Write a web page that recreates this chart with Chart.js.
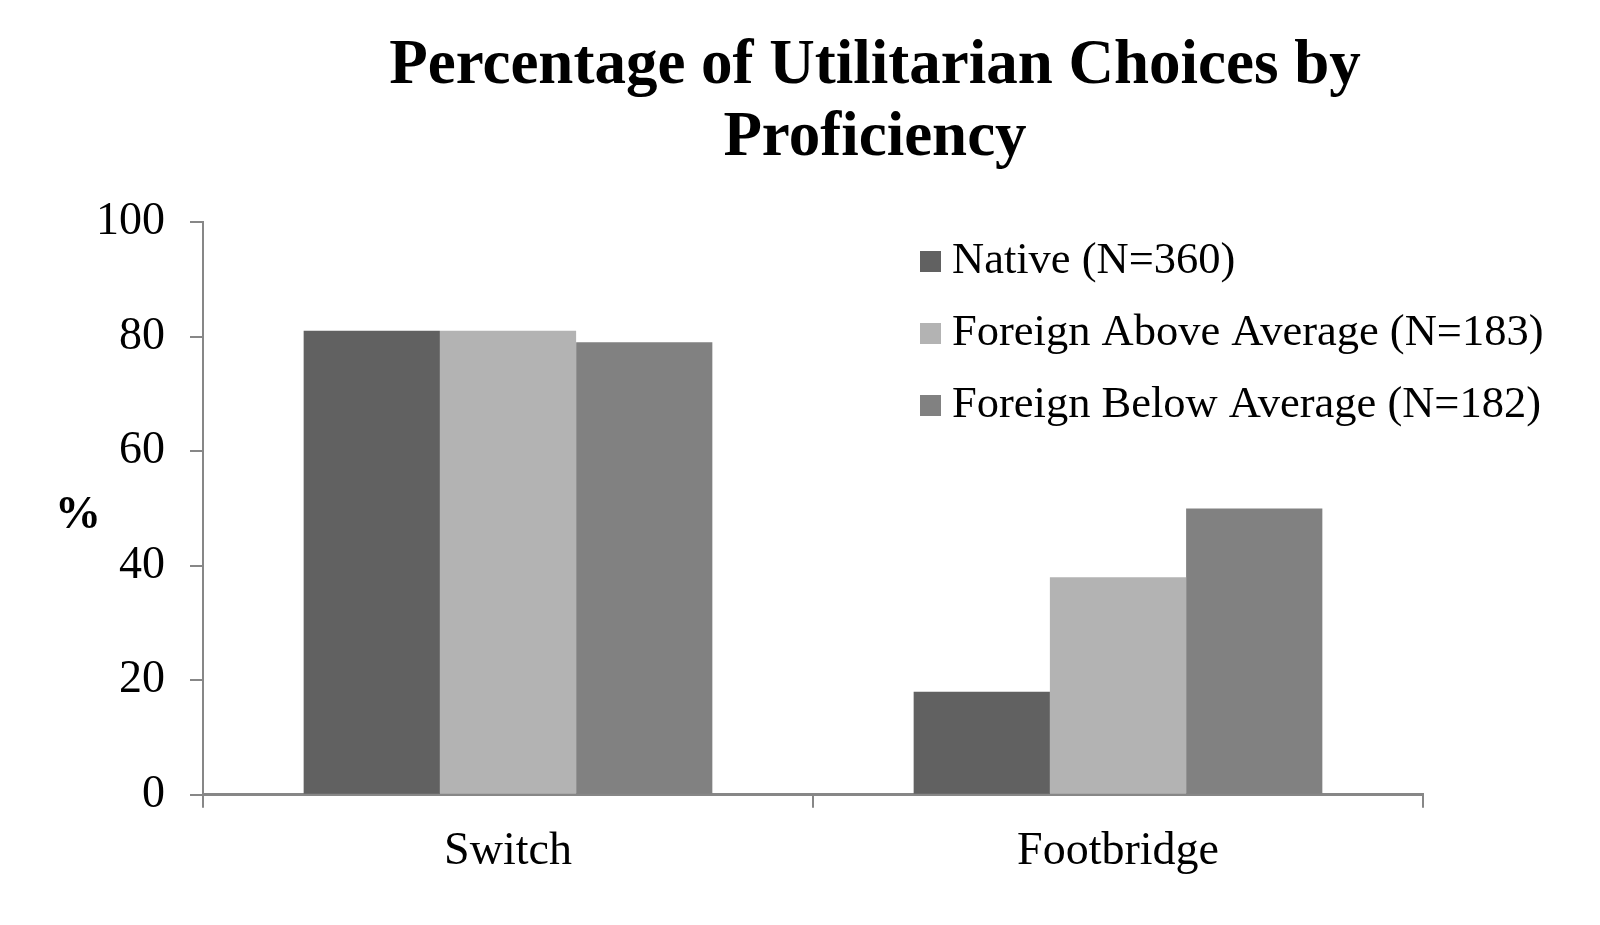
<!DOCTYPE html>
<html>
<head>
<meta charset="utf-8">
<script src="https://cdn.jsdelivr.net/npm/chart.js@4/dist/chart.umd.min.js"></script>
<style>
  html, body { margin: 0; padding: 0; background: #fff; }
  #wrap { width: 1600px; height: 925px; }
</style>
</head>
<body>
<div id="wrap"><canvas id="chart" width="1600" height="925"></canvas></div>
<script>
// values
const categories = ['Switch', 'Footbridge'];
const seriesNames = ['Native (N=360)', 'Foreign Above Average (N=183)', 'Foreign Below Average (N=182)'];
const nativeVals = [81, 18];
const aboveVals = [81, 38];
const belowVals = [79, 50];
const yTicks = [0, 20, 40, 60, 80, 100];
const titleLines = ['Percentage of Utilitarian Choices by', 'Proficiency'];

const colors = ['#616161', '#b3b3b3', '#818181'];
const axisColor = '#878787';
const fontFamily = "'Liberation Serif', 'DejaVu Serif', serif";

// title sits a bit right of the plot centre in the original, so draw it here
const chartTitle = {
  id: 'chartTitle',
  afterDraw(chart) {
    const ctx = chart.ctx;
    ctx.save();
    ctx.font = 'bold 63px ' + fontFamily;
    ctx.textAlign = 'center';
    ctx.textBaseline = 'middle';
    ctx.fillStyle = '#000';
    titleLines.forEach((line, i) => ctx.fillText(line, 875, 67 + i * 72));
    ctx.restore();
  }
};

// legend inside the plot area, top right
const insideLegend = {
  id: 'insideLegend',
  afterDraw(chart) {
    const ctx = chart.ctx;
    ctx.save();
    ctx.font = '44.5px ' + fontFamily;
    ctx.textBaseline = 'middle';
    chart.data.datasets.forEach((ds, i) => {
      const y = 261 + i * 72;
      ctx.fillStyle = ds.backgroundColor;
      ctx.fillRect(920, y - 10, 21, 21);
      ctx.fillStyle = '#000';
      ctx.fillText(ds.label, 952, y);
    });
    ctx.restore();
  }
};

// the "%" axis title is horizontal, left of the axis
const percentLabel = {
  id: 'percentLabel',
  afterDraw(chart) {
    const ctx = chart.ctx;
    ctx.save();
    ctx.font = 'bold 46px ' + fontFamily;
    ctx.textAlign = 'center';
    ctx.textBaseline = 'middle';
    ctx.fillStyle = '#000';
    ctx.fillText('%', 78, 516);
    ctx.restore();
  }
};

const ctx = document.getElementById('chart').getContext('2d');
new Chart(ctx, {
  type: 'bar',
  data: {
    labels: categories,
    datasets: [
      { label: seriesNames[0], data: nativeVals, backgroundColor: colors[0] },
      { label: seriesNames[1], data: aboveVals, backgroundColor: colors[1] },
      { label: seriesNames[2], data: belowVals, backgroundColor: colors[2] }
    ]
  },
  options: {
    responsive: false,
    animation: false,
    devicePixelRatio: 1,
    layout: { padding: { left: 71, right: 177, top: 222, bottom: 28 } },
    datasets: {
      bar: { barPercentage: 1, categoryPercentage: 0.67, borderWidth: 0 }
    },
    plugins: {
      legend: { display: false },
      tooltip: { enabled: false },
      title: { display: false }
    },
    scales: {
      x: {
        grid: { drawOnChartArea: false, drawTicks: true, tickLength: 13, color: axisColor, lineWidth: 2, offset: true },
        border: { color: axisColor, width: 3 },
        ticks: { color: '#000', font: { family: fontFamily, size: 46 }, padding: 17 }
      },
      y: {
        min: 0,
        max: 100,
        afterBuildTicks(axis) { axis.ticks = yTicks.map(v => ({ value: v })); },
        grid: { drawOnChartArea: false, drawTicks: true, tickLength: 13, color: axisColor, lineWidth: 2 },
        border: { color: axisColor, width: 2 },
        ticks: { color: '#000', font: { family: fontFamily, size: 46 }, padding: 25 }
      }
    }
  },
  plugins: [chartTitle, insideLegend, percentLabel]
});
</script>
</body>
</html>
